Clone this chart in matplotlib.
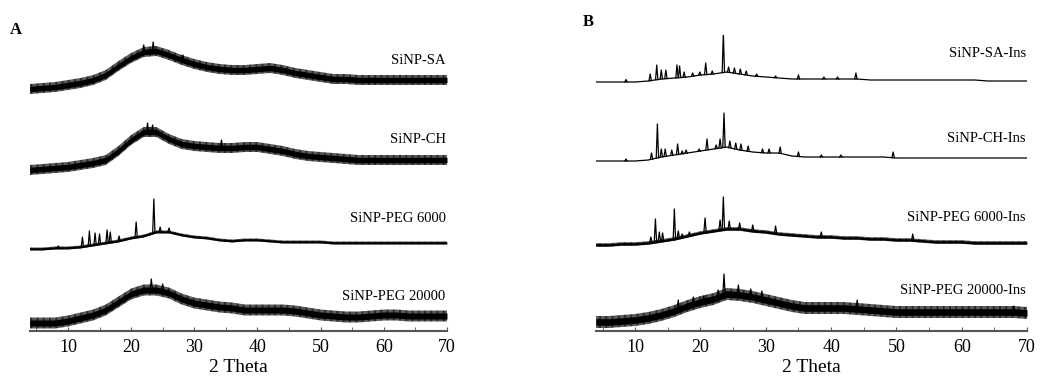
"""XRD patterns of SiNP carriers (A) and insulin loaded carriers (B)."""

import numpy as np
import matplotlib.pyplot as plt

plt.rcParams['font.family'] = ['Liberation Serif', 'DejaVu Serif']
plt.rcParams['hatch.linewidth'] = 0.6

# 2 theta grid for the amorphous background (read every 2 degrees)
theta = np.arange(4, 71, 2)

# panel A: broad background heights (a.u.)
sa_base = [0, 1, 2, 4, 6, 9, 14, 23, 31, 37, 38, 34, 29, 25, 22, 20, 19,
           19, 20, 21, 19, 16, 14, 12, 10, 10, 9, 9, 9, 9, 9, 9, 9, 9]
ch_base = [0, 1, 2, 3, 5, 7, 10, 19, 30, 38, 38, 31, 26, 24, 23, 22, 22,
           23, 23, 21, 19, 16, 14, 13, 12, 11, 10, 10, 10, 10, 10, 10, 10, 10]
peg6_base = [0, 0, 1, 1, 2, 4, 6, 8, 11, 13, 17, 17, 14, 12, 11, 9, 8,
             9, 9, 8, 7, 7, 7, 7, 6, 6, 6, 6, 6, 6, 6, 6, 6, 6]
peg20_base = [0, 0, 0, 2, 5, 8, 13, 21, 29, 33, 33, 30, 24, 20, 18, 16, 15,
              13, 13, 13, 13, 12, 10, 8, 7, 6, 6, 7, 8, 8, 7, 7, 7, 7]

# panel B: broad background heights (a.u.)
sa_ins_base = [0, 0, 0, 0, 1, 3, 4, 5, 7, 8, 10, 8, 6, 5, 4, 3, 3,
               3, 3, 3, 3, 2, 2, 2, 2, 2, 2, 2, 2, 2, 1, 1, 1, 1]
ch_ins_base = [0, 0, 0, 0, 1, 4, 6, 8, 10, 12, 14, 11, 9, 8, 8, 5, 4,
               4, 4, 4, 4, 4, 4, 3, 3, 3, 3, 3, 3, 3, 3, 3, 3, 3]
peg6_ins_base = [0, 0, 1, 1, 2, 4, 6, 9, 12, 14, 16, 16, 14, 13, 11, 10, 9,
                 8, 8, 7, 7, 6, 6, 5, 5, 4, 3, 3, 3, 2, 2, 2, 2, 2]
peg20_ins_base = [0, 0, 1, 2, 4, 7, 11, 16, 20, 23, 28, 27, 25, 22, 19, 16, 14,
                  14, 14, 14, 13, 12, 11, 10, 10, 10, 10, 10, 10, 10, 10, 10, 10, 9]

# sharp reflections: (2 theta, peak top height)
peg6_peaks = [(8.5, 3), (12.3, 12), (13.4, 18), (14.3, 16), (15.0, 15), (16.2, 19),
              (16.7, 17), (18.1, 13), (20.8, 27), (23.6, 50), (24.6, 22), (26.0, 21)]
peg20_peaks = [(23.2, 44), (25.0, 39)]
sa_peaks = [(23.5, 47), (28.2, 34), (22.0, 44)]
ch_peaks = [(22.6, 47), (23.4, 45), (34.3, 30)]

sa_ins_peaks = [(8.6, 2.5), (12.3, 8), (13.3, 17), (14.0, 12), (14.7, 12), (16.4, 17),
                (16.8, 16), (17.5, 10), (18.8, 9), (19.9, 10), (20.8, 19), (21.8, 11),
                (23.5, 49), (24.3, 15), (25.2, 14), (26.1, 13), (27.0, 11), (28.6, 8),
                (31.5, 6), (35.0, 7), (38.9, 5), (41.0, 5), (43.8, 9)]
ch_ins_peaks = [(8.6, 2), (12.5, 8), (13.4, 37), (14.0, 12), (14.6, 12), (15.6, 11),
                (16.5, 17), (17.2, 10), (17.8, 11), (19.8, 12), (21.0, 22), (22.4, 16),
                (23.0, 22), (23.6, 48), (24.5, 20), (25.4, 18), (26.2, 17), (27.3, 15),
                (29.5, 12), (30.5, 12), (32.2, 14), (35.0, 9), (38.5, 6), (41.5, 6),
                (49.5, 9)]
peg6_ins_peaks = [(12.4, 8), (13.1, 26), (13.7, 13), (14.2, 12), (16.0, 36), (16.6, 14),
                  (17.2, 11), (18.3, 13), (20.7, 27), (23.0, 25), (23.5, 48), (24.4, 24),
                  (26.0, 22), (28.0, 20), (31.5, 19), (38.5, 13), (52.5, 11)]
peg20_ins_peaks = [(16.6, 22), (18.9, 25), (20.5, 26), (22.7, 32), (23.6, 48),
                   (25.8, 37), (27.7, 33), (29.4, 31), (44.0, 22), (68.0, 16)]

labels_a = ['SiNP-SA', 'SiNP-CH', 'SiNP-PEG 6000', 'SiNP-PEG 20000']
labels_b = ['SiNP-SA-Ins', 'SiNP-CH-Ins', 'SiNP-PEG 6000-Ins', 'SiNP-PEG 20000-Ins']
offsets_a = [242, 161, 82, 8]
offsets_b = [249, 170, 86, 9]
label_y_a = [270, 191, 112, 34]
label_y_b = [277, 192, 113, 41]

# half width of the noise band of each pattern
noise_a = [5, 5, 1.5, 5.5]
noise_b = [1, 1, 1.8, 6]


def draw_pattern(ax, base, peaks, offset, hw):
    base = np.array(base, dtype=float) + offset
    if hw > 1.2:
        # noisy band: vertical hatching between the envelopes
        ax.fill_between(theta, base - hw, base + hw, facecolor='none',
                        edgecolor='black', hatch='|' * 14, lw=0)
        ax.fill_between(theta, base - hw * 0.55, base + hw * 0.55,
                        color='black', lw=0)
    ax.plot(theta, base, color='black', lw=0.9)
    for pos, top in peaks:
        foot = np.interp(pos, theta, base)
        ax.plot([pos - 0.18, pos, pos + 0.18], [foot, offset + top, foot],
                color='black', lw=0.9)


fig = plt.figure(figsize=(10.63, 3.85), dpi=100)
ax_a = fig.add_axes([30 / 1063, 54 / 385, 417 / 1063, 296 / 385])
ax_b = fig.add_axes([596 / 1063, 54 / 385, 431 / 1063, 296 / 385])

data_a = [(sa_base, sa_peaks), (ch_base, ch_peaks),
          (peg6_base, peg6_peaks), (peg20_base, peg20_peaks)]
data_b = [(sa_ins_base, sa_ins_peaks), (ch_ins_base, ch_ins_peaks),
          (peg6_ins_base, peg6_ins_peaks), (peg20_ins_base, peg20_ins_peaks)]

for ax, data, offs, noise, labels, ly in [
        (ax_a, data_a, offsets_a, noise_a, labels_a, label_y_a),
        (ax_b, data_b, offsets_b, noise_b, labels_b, label_y_b)]:
    for (base, peaks), off, hw, lab, y in zip(data, offs, noise, labels, ly):
        draw_pattern(ax, base, peaks, off, hw)
        ax.text(69.8, y, lab, ha='right', va='center', fontsize=10.5)
    ax.set_xlim(4, 70)
    ax.set_ylim(0, 296)
    ax.set_yticks([])
    for s in ['left', 'right', 'top']:
        ax.spines[s].set_visible(False)
    ax.spines['bottom'].set_color('#555555')
    ax.spines['bottom'].set_linewidth(1.5)
    ax.set_xticks(range(10, 71, 10))
    ax.set_xticks(range(5, 71, 5), minor=True)
    ax.tick_params(axis='x', which='both', direction='in', length=3,
                   color='#555555', labelsize=13, pad=6)
    ax.set_xlabel('2 Theta', fontsize=14, labelpad=2)
    ax.patch.set_alpha(0)

fig.text(10 / 1063, 1 - 30 / 385, 'A', fontsize=12, fontweight='bold', va='center')
fig.text(583 / 1063, 1 - 22 / 385, 'B', fontsize=12, fontweight='bold', va='center')

plt.savefig('out.png', dpi=100)
